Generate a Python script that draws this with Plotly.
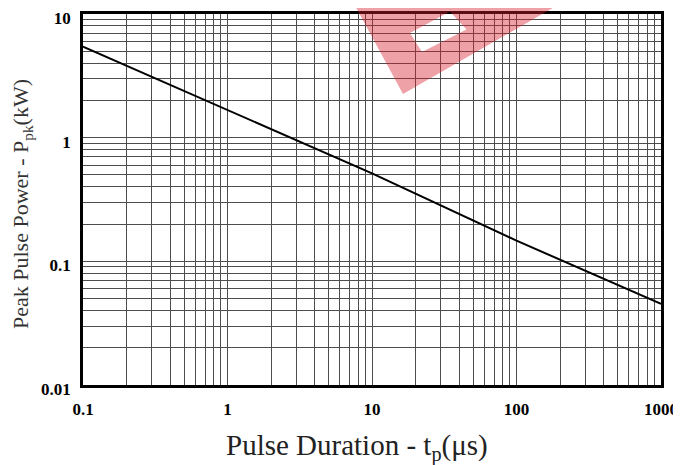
import plotly.graph_objects as go

# Data (log-log)
pulse_duration_us = [0.1, 1, 10, 100, 1000]
peak_power_kw = [5.44, 1.675, 0.515, 0.147, 0.0453]

x_tickvals = [0.1, 1, 10, 100, 1000]
x_ticktext = ["0.1", "1", "10", "100", "1000"]
y_tickvals = [0.01, 0.1, 1, 10]
y_ticktext = ["0.01", "0.1", "1", "10"]

x_title = "Pulse Duration - t<sub>p</sub>(μs)"
y_title = "Peak Pulse Power - P<sub>pk</sub>(kW)"

# page has an 8px body margin: figure origin sits at (8, 8) in the window
OFF = 8
W, H = 681 - OFF, 465 - OFF
L, R, T, B = 83 - OFF, 20, 14 - OFF, 80
PW, PH = W - L - R, H - T - B


def px_to_paper(px, py):
    # px, py are window pixel positions
    return (px - OFF - L) / PW, (H - B - (py - OFF)) / PH


def poly(points):
    pts = [px_to_paper(x, y) for x, y in points]
    return "M " + " L ".join(f"{x:.4f},{y:.4f}" for x, y in pts) + " Z"


fig = go.Figure()
fig.add_trace(go.Scatter(
    x=pulse_duration_us, y=peak_power_kw, mode="lines",
    line=dict(color="black", width=2), showlegend=False, hoverinfo="skip"))

grid_col = "#4d4d4d"
tick_font = dict(family="Liberation Serif", size=17, color="black", weight="bold")

fig.update_xaxes(
    type="log", range=[-1, 3], automargin=False,
    tickvals=x_tickvals, ticktext=x_ticktext, ticks="",
    tickfont=tick_font, ticklabelstandoff=7,
    showgrid=True, gridcolor=grid_col, gridwidth=1,
    minor=dict(showgrid=True, gridcolor=grid_col, gridwidth=1, dtick="D1", ticks=""),
    showline=True, linecolor="black", linewidth=2.5, mirror=True,
    zeroline=False,
)
fig.update_yaxes(
    type="log", range=[-2, 1], automargin=False,
    tickvals=y_tickvals, ticktext=y_ticktext, ticks="",
    tickfont=tick_font, ticklabelstandoff=6, ticklabelshift=4,
    showgrid=True, gridcolor=grid_col, gridwidth=1,
    minor=dict(showgrid=True, gridcolor=grid_col, gridwidth=1, dtick="D1", ticks=""),
    showline=True, linecolor="black", linewidth=2.5, mirror=True,
    zeroline=False,
)

xt_x, xt_y = px_to_paper(357, 447)
yt_x, yt_y = px_to_paper(22, 204)
fig.add_annotation(text=x_title, xref="paper", yref="paper", x=xt_x, y=xt_y,
                   xanchor="center", yanchor="middle", showarrow=False,
                   font=dict(family="Liberation Serif", size=29, color="#222"))
fig.add_annotation(text=y_title, xref="paper", yref="paper", x=yt_x, y=yt_y,
                   xanchor="center", yanchor="middle", showarrow=False, textangle=-90,
                   font=dict(family="Liberation Serif", size=22, color="#333"))

# Red watermark logo fragment (decoration, window pixel positions converted to paper)
outer = poly([(335.7, -30), (403, 94), (619, -30)])
hole1 = poly([(410, 33), (450, 11.5), (466.5, 29.5), (422, 52)])
hole2 = poly([(374, -30), (402, 8.3), (418, 0), (398, -30)])
hole3 = poly([(476, -30), (497, 7.3), (513, -2), (500, -30)])
fig.add_shape(type="path", path=outer + " " + hole1 + " " + hole2 + " " + hole3,
              xref="paper", yref="paper", fillrule="evenodd",
              fillcolor="rgb(215,30,45)", opacity=0.42, line=dict(width=0),
              layer="above")

fig.update_layout(
    width=W, height=H,
    margin=dict(l=L, r=R, t=T, b=B),
    paper_bgcolor="white", plot_bgcolor="white",
)

fig.write_html("out.html")
